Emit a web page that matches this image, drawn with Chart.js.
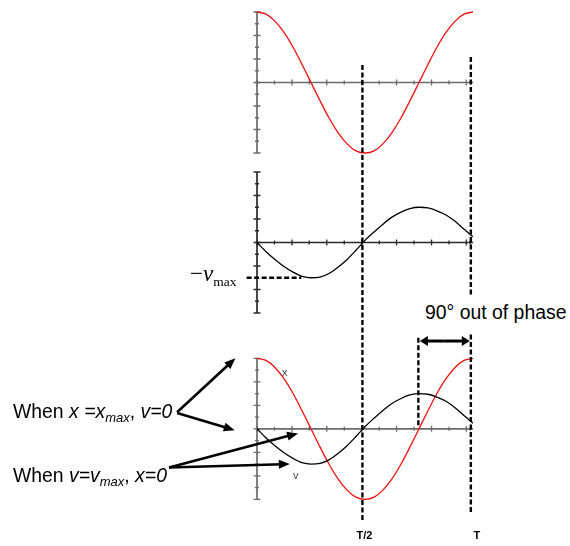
<!DOCTYPE html>
<html lang="en">
<head>
<meta charset="UTF-8">
<title>SHM: displacement and velocity</title>
<script src="https://cdn.jsdelivr.net/npm/chart.js"></script>
<style>
  body { margin: 0; background: #fff; }
  #wrap { position: relative; width: 570px; height: 546px; overflow: hidden; }
  #chart { position: absolute; left: 0; top: 0; }
  .lbl { position: absolute; white-space: nowrap; font-family: "Liberation Sans", Arial, sans-serif; color: #000; }
  .note { font-size: 19.4px; line-height: 19px; }
  .note sub { font-size: 13px; vertical-align: -4px; line-height: 0; }
  .small { font-size: 11px; line-height: 11px; color: #444; }
  .time { font-size: 11px; line-height: 11px; font-weight: bold; transform: translateX(-50%); }
  .vmax { font-family: "Liberation Serif", "DejaVu Serif", serif; font-size: 23px; line-height: 23px; }
  .vmax sub { font-size: 13.5px; vertical-align: -5px; line-height: 0; }
</style>
</head>
<body>
<div id="wrap">
  <canvas id="chart" width="570" height="546"></canvas>

  <div class="lbl" style="left:509px; top:-27px; font-size:26px; line-height:26px;">g</div>
  <div class="lbl vmax" style="left:190px; top:262px;">&minus;<i>v</i><sub>max</sub></div>
  <div class="lbl note" style="left:421px; top:296px; padding:7px 4px 10px 4px; background:#fff;">90° out of phase</div>
  <div class="lbl note" style="left:13px; top:402px;">When <i>x =x<sub>max</sub></i>, <i>v=0</i></div>
  <div class="lbl note" style="left:13px; top:466px;">When <i>v=v<sub>max</sub></i>, <i>x=0</i></div>
  <div class="lbl small" style="left:282px; top:367px;">x</div>
  <div class="lbl small" style="left:293px; top:470px;">v</div>
  <div class="lbl time" id="lblHalf" style="top:530px;"></div>
  <div class="lbl time" id="lblFull" style="top:530px;"></div>
</div>

<script>
// one period sampled every T/24, time in units of T
const t = [0, 0.042, 0.083, 0.125, 0.167, 0.208, 0.25, 0.292, 0.333, 0.375, 0.417, 0.458, 0.5,
           0.542, 0.583, 0.625, 0.667, 0.708, 0.75, 0.792, 0.833, 0.875, 0.917, 0.958, 1];
// displacement, units of x_max
const xVals = [1, 0.97, 0.87, 0.71, 0.5, 0.26, 0, -0.26, -0.5, -0.71, -0.87, -0.97, -1,
               -0.97, -0.87, -0.71, -0.5, -0.26, 0, 0.26, 0.5, 0.71, 0.87, 0.97, 1];
// velocity on the same time base
const vVals = [0, -0.13, -0.24, -0.34, -0.42, -0.48, -0.5, -0.49, -0.44, -0.35, -0.24, -0.11, 0.03,
               0.15, 0.26, 0.36, 0.43, 0.48, 0.5, 0.49, 0.45, 0.39, 0.3, 0.19, 0.08];
const vmax = 0.5;

const timeLabels = ['T/2', 'T'];
const timeMarks = [0.488, 0.99];
const phaseMark = 0.747;   // quarter period before T

// small ticks along the time axis
const xTicks = [0, 0.081, 0.162, 0.242, 0.323, 0.404, 0.485, 0.566, 0.646, 0.727, 0.808, 0.889, 0.969, 0.987];

// panel layout: pixel row of each zero line, half height of the +-1 range
const panels = ['y1', 'y2', 'y3'];
const panelZero = [82.5, 242.5, 428.8];
const halfH = 70.5;
const H = 546;
const axisColor = ['#6b6b6b', '#2a2a2a', '#6b6b6b'];

const pts = ys => t.map((tt, i) => ({ x: tt, y: ys[i] }));

const yScales = {};
panels.forEach((id, k) => {
  yScales[id] = {
    type: 'linear', display: false,
    max: panelZero[k] / halfH,
    min: (panelZero[k] - H) / halfH
  };
});

function arrow(ctx, x1, y1, x2, y2, len, half) {
  const a = Math.atan2(y2 - y1, x2 - x1);
  const c = Math.cos(a), s = Math.sin(a);
  ctx.beginPath();
  ctx.moveTo(x1, y1);
  ctx.lineTo(x2 - len * 0.7 * c, y2 - len * 0.7 * s);
  ctx.stroke();
  ctx.beginPath();
  ctx.moveTo(x2, y2);
  ctx.lineTo(x2 - len * c + half * s, y2 - len * s - half * c);
  ctx.lineTo(x2 - len * c - half * s, y2 - len * s + half * c);
  ctx.closePath();
  ctx.fill();
}

const panelAxes = {
  id: 'panelAxes',
  beforeDatasetsDraw(chart) {
    const ctx = chart.ctx, sx = chart.scales.x;
    const x0 = sx.getPixelForValue(0), x1 = sx.getPixelForValue(1);
    panels.forEach((id, k) => {
      const sy = chart.scales[id];
      const y0 = sy.getPixelForValue(0);
      ctx.save();
      ctx.strokeStyle = axisColor[k];
      ctx.lineWidth = 1.7;
      ctx.beginPath();
      ctx.moveTo(x0, sy.getPixelForValue(1));
      ctx.lineTo(x0, sy.getPixelForValue(-1));
      ctx.moveTo(x0, y0);
      ctx.lineTo(x1, y0);
      ctx.stroke();
      ctx.lineWidth = 1.3;
      ctx.beginPath();
      for (let i = 0; i <= 12; i++) {
        const y = sy.getPixelForValue(-1 + i / 6);
        const h = i % 2 ? 2 : 3.5;
        ctx.moveTo(x0 - h, y);
        ctx.lineTo(x0 + h, y);
      }
      xTicks.forEach((v, i) => {
        const x = sx.getPixelForValue(v);
        const h = i % 2 ? 2 : 3;
        ctx.moveTo(x, y0 - h);
        ctx.lineTo(x, y0 + h);
      });
      ctx.stroke();
      ctx.restore();
    });
  }
};

const guides = {
  id: 'guides',
  afterDatasetsDraw(chart) {
    const ctx = chart.ctx, sx = chart.scales.x;
    const s1 = chart.scales.y1, s3 = chart.scales.y3;
    ctx.save();
    ctx.strokeStyle = '#000';
    ctx.fillStyle = '#000';
    ctx.lineWidth = 2.4;
    ctx.setLineDash([5, 2.5]);
    const vline = (tv, yTop, yBot) => {
      const x = sx.getPixelForValue(tv);
      ctx.beginPath();
      ctx.moveTo(x, yTop);
      ctx.lineTo(x, yBot);
      ctx.stroke();
    };
    vline(timeMarks[0], s1.getPixelForValue(0.25), s3.getPixelForValue(-1.32));
    vline(timeMarks[1], s1.getPixelForValue(0.36), s3.getPixelForValue(-1.21));
    vline(phaseMark, s3.getPixelForValue(1.29), s3.getPixelForValue(0.04));
    ctx.setLineDash([]);

    // phase difference between the two dashed markers
    ctx.lineWidth = 3;
    const ya = s3.getPixelForValue(1.245);
    const xa = sx.getPixelForValue(phaseMark) + 1.5, xb = sx.getPixelForValue(timeMarks[1]) - 1;
    const mid = (xa + xb) / 2;
    arrow(ctx, mid, ya, xa, ya, 8, 5);
    arrow(ctx, mid, ya, xb, ya, 8, 5);

    // pointers from the notes to the curves
    ctx.lineWidth = 2.6;
    [
      [-0.37, 0.235, -0.1, 1.0],
      [-0.37, 0.225, -0.103, -0.02],
      [-0.407, -0.55, 0.19, -0.065],
      [-0.407, -0.55, 0.152, -0.5]
    ].forEach(([ta, va, tb, vb]) => {
      arrow(ctx, sx.getPixelForValue(ta), s3.getPixelForValue(va),
                 sx.getPixelForValue(tb), s3.getPixelForValue(vb), 11, 4.5);
    });
    ctx.restore();
  }
};

const curve = (data, axis, color) => ({
  data: pts(data), yAxisID: axis, borderColor: color, borderWidth: 1.3,
  pointRadius: 0, cubicInterpolationMode: 'monotone', fill: false
});

new Chart(document.getElementById('chart'), {
  type: 'line',
  data: {
    datasets: [
      curve(xVals, 'y1', '#f01010'),
      curve(vVals, 'y2', '#000'),
      {
        data: [{ x: -0.048, y: -vmax }, { x: 0.205, y: -vmax }],
        yAxisID: 'y2', borderColor: '#000', borderWidth: 2.4, borderDash: [5, 2.5],
        pointRadius: 0, clip: false
      },
      curve(vVals, 'y3', '#000'),
      curve(xVals, 'y3', '#f01010')
    ]
  },
  options: {
    responsive: false,
    animation: false,
    events: [],
    layout: { padding: { left: 257, right: 97, top: 0, bottom: 0 } },
    plugins: { legend: { display: false }, tooltip: { enabled: false } },
    scales: Object.assign({ x: { type: 'linear', display: false, min: 0, max: 1 } }, yScales)
  },
  plugins: [panelAxes, guides]
});

// time labels under the dashed markers
const chart = Chart.getChart('chart');
['lblHalf', 'lblFull'].forEach((id, i) => {
  const el = document.getElementById(id);
  el.textContent = timeLabels[i];
  el.style.left = (chart.scales.x.getPixelForValue(timeMarks[i]) + (i ? 6 : 2)) + 'px';
});
</script>
</body>
</html>
